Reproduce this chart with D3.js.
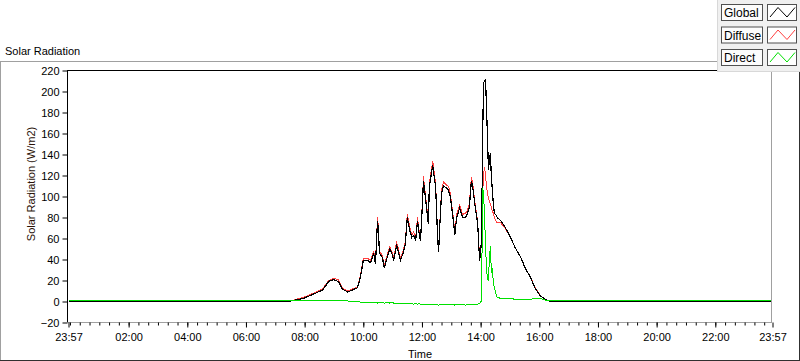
<!DOCTYPE html>
<html>
<head>
<meta charset="utf-8">
<script src="https://cdn.jsdelivr.net/npm/d3@7"></script>
<style>
  body { margin: 0; background: #fff; }
  svg { display: block; font-family: "Liberation Sans", Arial, sans-serif; }
</style>
</head>
<body>
<svg id="chart" width="800" height="361"></svg>
<script>
// minutes after midnight (-3 = 23:57 of the day before)
const timeMin = [-3, 420, 447, 478, 498, 517, 529, 539, 549, 557, 568, 578, 588, 594,
  600, 609, 615, 621, 625, 629, 631, 633, 639, 643, 650, 654, 660, 662, 668, 670, 676,
  682, 686, 690, 695, 699, 703, 707, 711, 713, 717, 721, 723, 727, 733, 735, 742, 744,
  748, 752, 754, 756, 760, 764, 770, 774, 778, 785, 787, 791, 797, 803, 809, 813, 817,
  821, 823, 828, 834, 836, 838, 842, 844, 846, 848, 850, 852, 854, 856, 858, 860, 862,
  864, 866, 868, 872, 874, 881, 891, 901, 911, 922, 932, 942, 952, 963, 973, 983, 1437];

const globalVals = [0, 0, 0, 3, 7, 11, 19, 21, 19, 12, 9, 11, 13, 23,
  39, 39, 37, 46, 36, 77, 68, 46, 42, 32, 44, 50, 44, 39, 53, 51, 39,
  47, 55, 80, 68, 61, 63, 58, 77, 68, 58, 93, 115, 99, 74, 109, 130, 122,
  109, 61, 47, 68, 103, 110, 108, 106, 100, 74, 63, 80, 89, 80, 80, 84, 90,
  115, 112, 93, 74, 55, 39, 58, 156, 208, 210, 212, 185, 156, 125, 135, 141, 118,
  106, 93, 84, 82, 80, 77, 70, 61, 51, 42, 31, 23, 12, 5, 2, 0, 0];

const diffuseVals = [0, 0, 0, 4, 8, 12, 20, 22, 21, 13, 10, 12, 14, 24,
  41, 41, 39, 48, 38, 80, 71, 48, 44, 34, 46, 52, 46, 41, 56, 54, 41,
  49, 57, 83, 71, 63, 66, 60, 80, 71, 60, 96, 119, 102, 77, 112, 134, 126,
  112, 63, 49, 70, 106, 114, 111, 110, 103, 77, 65, 83, 92, 83, 84, 87, 93,
  118, 115, 96, 76, 57, 41, 58, 100, 122, 128, 120, 110, 103, 98, 95, 93, 90,
  86, 84, 80, 76, 75, 75, 69, 61, 51, 42, 31, 23, 13, 5, 2, 0, 0];

const directVals = [1, 1, 1, 1, 1, 1, 1, 1, 1, 0.5, 0.5, 0, 0, -0.5,
  -0.5, -1, -1, -1, -1, -1.5, -1, -1, -1, -1.5, -1, -1.5, -1, -1.5, -1.5, -2, -1.5,
  -2, -2, -2, -2, -2, -2.5, -2, -2.5, -2, -2.5, -2.5, -3, -2.5, -3, -2.5, -3, -3,
  -2.5, -3, -3.5, -3, -2.5, -3, -3, -3, -2.5, -3, -3.5, -3, -3, -3, -3.5, -3, -3,
  -3, -2.5, -3, -2.5, -2, -2, 1, 108, 103, 80, 55, 30, 22, 20, 42, 53, 27,
  32, 18, 13, 6, 4, 3, 3, 3, 2, 2, 2, 2, 3, 3, 1, 1, 1];

const yTicks = [-20, 0, 20, 40, 60, 80, 100, 120, 140, 160, 180, 200, 220];
const xTickMin = [-3, 120, 240, 360, 480, 600, 720, 840, 960, 1080, 1200, 1320, 1437];
const xTickLabels = ['23:57', '02:00', '04:00', '06:00', '08:00', '10:00', '12:00',
  '14:00', '16:00', '18:00', '20:00', '22:00', '23:57'];

const seriesNames = ['Global', 'Diffuse', 'Direct'];
const seriesColors = ['#000000', '#ff4040', '#00e000'];

const svg = d3.select('#chart');

const x = d3.scaleLinear().domain([-3, 1437]).range([68, 772]);
const y = d3.scaleLinear().domain([-20, 220]).range([322, 70]);

// outer panel frame
svg.append('line').attr('x1', 0).attr('x2', 800).attr('y1', 61.5).attr('y2', 61.5).attr('stroke', '#a0a0a0');
svg.append('line').attr('x1', 0.5).attr('x2', 0.5).attr('y1', 61).attr('y2', 361).attr('stroke', '#a0a0a0');
svg.append('line').attr('x1', 0).attr('x2', 800).attr('y1', 360.5).attr('y2', 360.5).attr('stroke', '#303030');
svg.append('line').attr('x1', 799.5).attr('x2', 799.5).attr('y1', 61).attr('y2', 361).attr('stroke', '#303030');

svg.append('text')
  .attr('x', 5).attr('y', 55)
  .style('font-size', '11px')
  .text('Solar Radiation');

// plot area
svg.append('rect')
  .attr('x', 68).attr('y', 70).attr('width', 704).attr('height', 252)
  .attr('fill', '#fff');

svg.append('clipPath').attr('id', 'clip')
  .append('rect').attr('x', 68).attr('y', 70).attr('width', 704).attr('height', 252);

const plot = svg.append('g').attr('clip-path', 'url(#clip)')
  .append('g').attr('transform', 'translate(0.5,0.5)');

const rows = timeMin.map((t, i) => ({
  t: t, g: globalVals[i], d: diffuseVals[i], r: directVals[i]
}));

const line = key => d3.line()
  .x(d => x(d.t))
  .y(d => y(d[key]));

plot.append('path').datum(rows)
  .attr('d', line('d')).attr('fill', 'none')
  .attr('stroke', seriesColors[1]).attr('stroke-width', 1)
  .attr('shape-rendering', 'crispEdges');

plot.append('path').datum(rows)
  .attr('d', line('g')).attr('fill', 'none')
  .attr('stroke', seriesColors[0]).attr('stroke-width', 1.2)
  .attr('shape-rendering', 'crispEdges');

plot.append('path').datum(rows)
  .attr('d', line('r')).attr('fill', 'none')
  .attr('stroke', seriesColors[2]).attr('stroke-width', 1)
  .attr('shape-rendering', 'crispEdges');

// plot border
svg.append('line').attr('x1', 67).attr('x2', 772).attr('y1', 70.5).attr('y2', 70.5).attr('stroke', '#000');
svg.append('line').attr('x1', 67.5).attr('x2', 67.5).attr('y1', 70).attr('y2', 323).attr('stroke', '#000');
svg.append('line').attr('x1', 771.5).attr('x2', 771.5).attr('y1', 70).attr('y2', 323).attr('stroke', '#a0a0a0');
svg.append('line').attr('x1', 67).attr('x2', 772).attr('y1', 322.5).attr('y2', 322.5).attr('stroke', '#a0a0a0');

// y axis
const gY = svg.append('g')
  .attr('transform', 'translate(67.5,0.5)')
  .call(d3.axisLeft(y).tickValues(yTicks).tickSize(5).tickPadding(3));
gY.select('.domain').remove();
gY.selectAll('text').style('font-size', '11px').attr('fill', '#000');

// x axis, minor ticks every 20 min
const gXMinor = svg.append('g')
  .attr('transform', 'translate(0.5,322.5)')
  .call(d3.axisBottom(x).tickValues(d3.range(0, 1440, 20)).tickSize(3).tickFormat(''));
gXMinor.select('.domain').remove();

const gX = svg.append('g')
  .attr('transform', 'translate(0.5,322.5)')
  .call(d3.axisBottom(x).tickValues(xTickMin).tickSize(5).tickPadding(6)
    .tickFormat((d, i) => xTickLabels[i]));
gX.select('.domain').remove();
gX.selectAll('text').style('font-size', '11px').attr('fill', '#000');

svg.append('text')
  .attr('x', 420).attr('y', 358)
  .attr('text-anchor', 'middle')
  .style('font-size', '11px')
  .text('Time');

svg.append('text')
  .attr('transform', 'translate(35,184) rotate(-90)')
  .attr('text-anchor', 'middle')
  .style('font-size', '11px')
  .attr('fill', '#2a1208')
  .text('Solar Radiation (W/m2)');

// legend
const legend = svg.append('g');
legend.append('rect')
  .attr('x', 717.5).attr('y', -1).attr('width', 84).attr('height', 72.5)
  .attr('fill', '#f0f0f0').attr('stroke', '#d8d8d8');

const item = legend.selectAll('.item')
  .data(seriesNames)
  .enter()
  .append('g')
  .classed('item', true)
  .attr('transform', (d, i) => 'translate(0,' + (4 + i * 22.5) + ')');

item.append('rect')
  .attr('x', 721.5).attr('y', 0.5).attr('width', 41).attr('height', 16)
  .attr('fill', '#fcfcfc').attr('stroke', '#505050');

item.append('text')
  .attr('x', 724).attr('y', 13)
  .style('font-size', '12px')
  .attr('fill', '#000')
  .text(d => d);

item.append('rect')
  .attr('x', 767.5).attr('y', 0.5).attr('width', 29).attr('height', 16)
  .attr('fill', '#fff').attr('stroke', '#505050');

item.append('polyline')
  .attr('points', '770,13 778,3.5 787,13 795,3.5')
  .attr('fill', 'none')
  .attr('stroke', (d, i) => seriesColors[i])
  .attr('stroke-width', 1);
</script>
</body>
</html>
